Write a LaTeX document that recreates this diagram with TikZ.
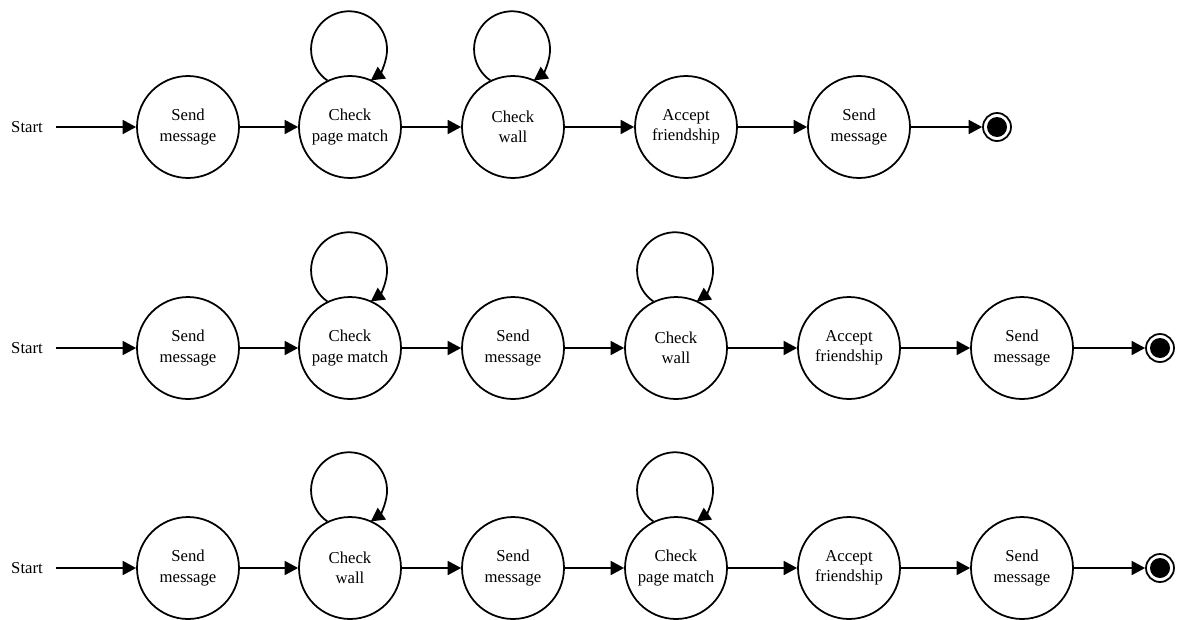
\documentclass[tikz,border=0pt]{standalone}
\usepackage{fontspec}
\setmainfont{Liberation Serif}
\usepackage{tikz}
\usetikzlibrary{positioning, arrows.meta}

\begin{document}
\begin{tikzpicture}[x=0.02cm, y=0.02cm,
  font=\fontsize{9.5}{11.4}\selectfont,
  state/.style={circle, draw, line width=1pt, minimum size=2.04cm, inner sep=0pt, align=center},
  startlbl/.style={inner xsep=0.26cm, inner ysep=0pt},
  final/.style={circle, draw, line width=1pt, minimum size=0.56cm, inner sep=0pt,
    path picture={\fill (path picture bounding box.center) circle (0.2cm);}},
  arr/.style={-{Triangle[length=0.27cm, width=0.28cm]}, line width=1pt}]
\useasboundingbox (0,0) rectangle (1179,-619);

% first row
\node[startlbl] (start1) at (27,-127) {Start};
\node[state] (send1a) at (188,-127) {Send\\message};
\node[state] (page1) at (350,-127) {Check\\page match};
\node[state] (wall1) at (513,-127) {Check\\wall};
\node[state] (accept1) at (686,-127) {Accept\\friendship};
\node[state] (send1b) at (859,-127) {Send\\message};
\node[final] (end1) at (997,-127) {};
\draw[arr] (start1) -- (send1a);
\draw[arr] (send1a) -- (page1);
\draw[arr] (page1) -- (wall1);
\draw[arr] (wall1) -- (accept1);
\draw[arr] (accept1) -- (send1b);
\draw[arr] (send1b) -- (end1);
\draw[arr] (page1.116) arc[start angle=235, end angle=-55, radius=0.76cm];
\draw[arr] (wall1.116) arc[start angle=235, end angle=-55, radius=0.76cm];

% second row
\node[startlbl] (start2) at (27,-348) {Start};
\node[state] (send2a) at (188,-348) {Send\\message};
\node[state] (page2) at (350,-348) {Check\\page match};
\node[state] (send2b) at (513,-348) {Send\\message};
\node[state] (wall2) at (676,-348) {Check\\wall};
\node[state] (accept2) at (849,-348) {Accept\\friendship};
\node[state] (send2c) at (1022,-348) {Send\\message};
\node[final] (end2) at (1160,-348) {};
\draw[arr] (start2) -- (send2a);
\draw[arr] (send2a) -- (page2);
\draw[arr] (page2) -- (send2b);
\draw[arr] (send2b) -- (wall2);
\draw[arr] (wall2) -- (accept2);
\draw[arr] (accept2) -- (send2c);
\draw[arr] (send2c) -- (end2);
\draw[arr] (page2.116) arc[start angle=235, end angle=-55, radius=0.76cm];
\draw[arr] (wall2.116) arc[start angle=235, end angle=-55, radius=0.76cm];

% third row
\node[startlbl] (start3) at (27,-568) {Start};
\node[state] (send3a) at (188,-568) {Send\\message};
\node[state] (wall3) at (350,-568) {Check\\wall};
\node[state] (send3b) at (513,-568) {Send\\message};
\node[state] (page3) at (676,-568) {Check\\page match};
\node[state] (accept3) at (849,-568) {Accept\\friendship};
\node[state] (send3c) at (1022,-568) {Send\\message};
\node[final] (end3) at (1160,-568) {};
\draw[arr] (start3) -- (send3a);
\draw[arr] (send3a) -- (wall3);
\draw[arr] (wall3) -- (send3b);
\draw[arr] (send3b) -- (page3);
\draw[arr] (page3) -- (accept3);
\draw[arr] (accept3) -- (send3c);
\draw[arr] (send3c) -- (end3);
\draw[arr] (wall3.116) arc[start angle=235, end angle=-55, radius=0.76cm];
\draw[arr] (page3.116) arc[start angle=235, end angle=-55, radius=0.76cm];
\end{tikzpicture}
\end{document}
